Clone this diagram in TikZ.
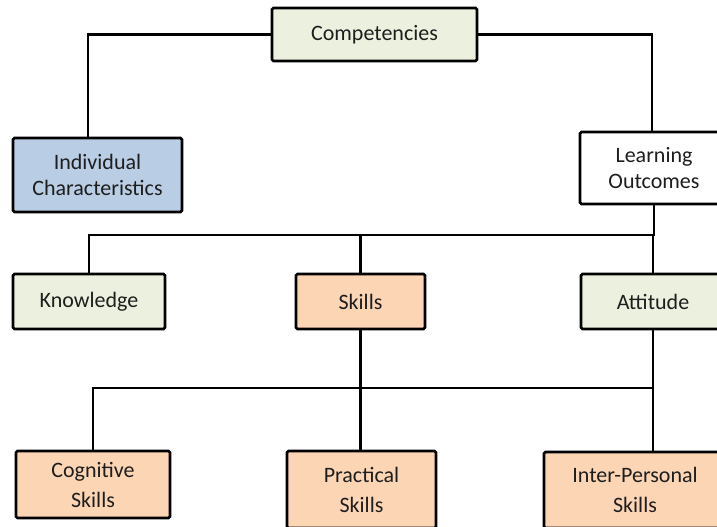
\documentclass[tikz,border=0pt]{standalone}
\usepackage{fontspec}
\setmainfont{Carlito}

\definecolor{boxgreen}{RGB}{235,241,222}
\definecolor{boxblue}{RGB}{185,205,229}
\definecolor{boxorange}{RGB}{252,213,181}
\definecolor{textgray}{RGB}{30,30,30}

\tikzset{
    box/.style={draw=black, line width=2.8pt, rounded corners=1.5pt, align=center, inner sep=0pt,
        text=textgray, font=\fontsize{22}{26}\selectfont},
    lowbox/.style={box, font=\fontsize{22}{30}\selectfont},
    link/.style={line width=2.6pt}
}

\begin{document}
\begin{tikzpicture}[x=1pt, y=-1pt]
    \useasboundingbox (0,0) rectangle (717,527);
    \clip (0,0) rectangle (717,527);

    % top level
    \node[box, fill=boxgreen, minimum width=205pt, minimum height=53pt] (comp) at (374.5,34.5) {Competencies};
    \node[box, fill=boxblue, minimum width=169pt, minimum height=74pt] (indiv) at (97.5,175) {Individual\\Characteristics};
    \node[box, fill=white, minimum width=148pt, minimum height=72pt] (learn) at (654,168) {Learning\\Outcomes};

    % middle row
    \node[box, fill=boxgreen, minimum width=152pt, minimum height=55pt] (know) at (89,301.5) {Knowledge};
    \node[box, fill=boxorange, minimum width=129pt, minimum height=55pt] (skills) at (360.5,301.5) {Skills};
    \node[box, fill=boxgreen, minimum width=144pt, minimum height=55pt] (att) at (653,301.5) {Attitude};

    % bottom row
    \node[lowbox, fill=boxorange, minimum width=154pt, minimum height=67pt] (cog) at (93,484.5) {Cognitive\\Skills};
    \node[lowbox, fill=boxorange, minimum width=149pt, minimum height=77pt] (prac) at (361.5,489.5) {Practical\\Skills};
    \node[lowbox, fill=boxorange, minimum width=182pt, minimum height=76pt] (inter) at (635,490) {Inter-Personal\\Skills};

    \coordinate (bus1) at (0,235);
    \coordinate (bus2) at (0,388);

    \draw[link] (comp.west) -| ([xshift=-9.5pt]indiv.north);
    \draw[link] (comp.east) -| ([xshift=-2pt]learn.north);

    \draw[link] (learn.south) -- (learn.south |- bus1) -| (know.north);
    \draw[link] (skills.north) -- (skills.north |- bus1);
    \draw[link] (att.north) -- (att.north |- bus1);

    \draw[link] (cog.north) |- (att.south |- bus2);
    \draw[link] (skills.south) -- (skills.south |- prac.north);
    \draw[link] (att.south) -- (att.south |- inter.north);
\end{tikzpicture}
\end{document}
